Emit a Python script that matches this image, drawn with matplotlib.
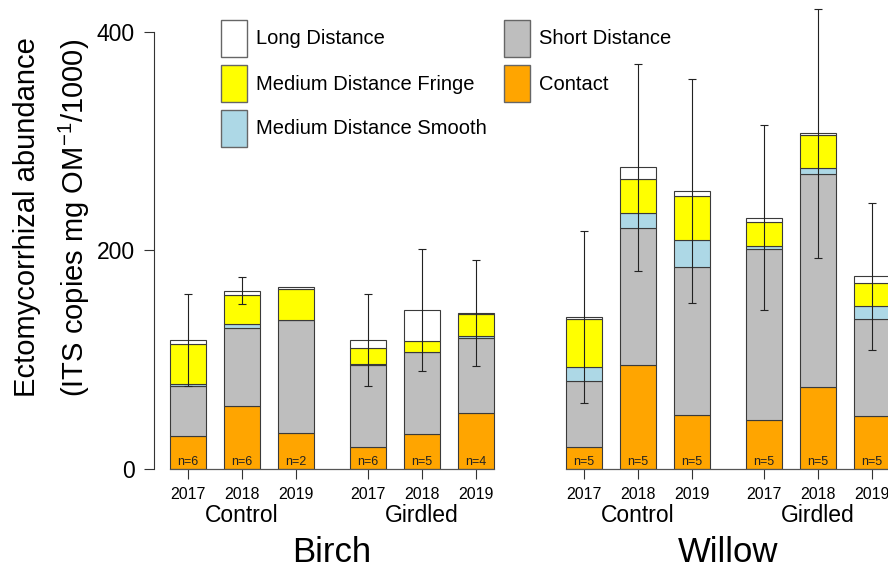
import numpy as np
import matplotlib
matplotlib.use("Agg")
import matplotlib.pyplot as plt
from matplotlib.patches import Rectangle
from matplotlib.transforms import blended_transform_factory

plt.rcParams.update({
    "font.family": "Liberation Sans",
    "mathtext.fontset": "custom",
    "mathtext.rm": "Liberation Sans",
    "mathtext.default": "regular",
})

# ── data (order: Birch C17 C18 C19 G17 G18 G19, Willow C17 C18 C19 G17 G18 G19)
species    = ["Birch", "Willow"]
treatments = ["Control", "Girdled"]
years      = ["2017", "2018", "2019"]

contact = [29.5, 57.6, 32.5, 19.4, 31.3, 50.6, 19.4, 94.6, 48.8, 44.7, 74.4, 47.8]
short   = [45.8, 70.9, 103.3, 75.5, 75.5, 68.7, 60.8, 126.1, 135.6, 156.5, 195.5, 89.2]
md_smooth = [1.9, 3.7, 0.5, 1.1, 0.3, 2.4, 13.1, 13.8, 25.0, 2.5, 5.3, 12.2]
md_fringe = [36.6, 26.8, 28.2, 14.2, 9.8, 19.6, 43.7, 30.5, 40.4, 22.5, 30.5, 21.1]
long_dist = [4.0, 4.0, 1.5, 7.6, 28.4, 1.2, 1.6, 11.0, 4.8, 3.7, 1.5, 5.9]
err_half  = [42.0, 12.2, np.nan, 42.4, 56.2, 48.7, 79.0, 94.7, 102.8, 85.0, 113.9, 67.6]
n_obs     = [6, 6, 2, 6, 5, 4, 5, 5, 5, 5, 5, 5]

layers = [
    ("Contact", contact, "#FFA500"),
    ("Short Distance", short, "#BEBEBE"),
    ("Medium Distance Smooth", md_smooth, "#ADD8E6"),
    ("Medium Distance Fringe", md_fringe, "#FFFF00"),
    ("Long Distance", long_dist, "#FFFFFF"),
]

# bar positions (units of bar spacing)
xpos = np.array([0, 1, 2, 3.333, 4.333, 5.333,
                 7.333, 8.333, 9.333, 10.667, 11.667, 12.667])
WIDTH = 0.667
EDGE = "#3a3a3a"

W, H = 888, 570
fig = plt.figure(figsize=(W / 100, H / 100), dpi=100)

def fx(px):
    return px / W

def fy(py):
    return 1 - py / H

ax = fig.add_axes([fx(154), fy(468.5), fx(888 - 154), 468.5 / H])
ax.set_xlim(-0.63, 12.963)
ax.set_ylim(0, 429.4)

bottom = np.zeros(len(xpos))
for name, vals, col in layers:
    vals = np.array(vals)
    ax.bar(xpos, vals, WIDTH, bottom=bottom, color=col, edgecolor=EDGE,
           linewidth=0.8, zorder=2)
    bottom += vals

ax.errorbar(xpos, bottom, yerr=err_half, fmt="none", ecolor="#222222",
            elinewidth=0.8, capsize=2.6, capthick=0.8, zorder=3)

for x, n in zip(xpos, n_obs):
    ax.text(x, 5.5, f"n={n}", ha="center", va="center", fontsize=9,
            color="#222222", zorder=4)

# axes styling
for s in ["top", "right", "bottom"]:
    ax.spines[s].set_visible(False)
ax.spines["left"].set_bounds(0, 400)
ax.spines["left"].set_color("#333333")
ax.set_yticks([0, 200, 400])
ax.tick_params(axis="y", length=7, width=0.8, color="#333333", pad=7,
               labelsize=16.5)
ax.set_xticks(xpos)
ax.set_xticklabels(years * 4)
ax.tick_params(axis="x", length=7, width=0.8, color="#333333", pad=6,
               labelsize=11.5)

# baseline under each species group
for start, end in [(0, 5), (6, 11)]:
    ax.plot([xpos[start] - WIDTH / 2, xpos[end] + WIDTH / 2], [0, 0],
            color="#555555", linewidth=0.9, clip_on=False, zorder=5)

# group labels
tr = blended_transform_factory(ax.transData, fig.transFigure)
for g in range(4):
    ax.text(xpos[g * 3 + 1], fy(516), treatments[g % 2], transform=tr,
            ha="center", va="center", fontsize=16.5)
for s in range(2):
    ax.text((xpos[s * 6] + xpos[s * 6 + 5]) / 2, fy(553), species[s],
            transform=tr, ha="center", va="center", fontsize=25)

# y label (two lines)
fig.text(fx(27), fy(397), "Ectomycorrhizal abundance", rotation=90,
         ha="center", va="bottom", fontsize=21)
fig.text(fx(74), fy(397), r"(ITS copies mg OM$^{-1}$/1000)", rotation=90,
         ha="center", va="bottom", fontsize=21)

# legend (two columns, drawn by hand)
leg_items = [
    ("Long Distance", "#FFFFFF", 221, 38),
    ("Medium Distance Fringe", "#FFFF00", 221, 83),
    ("Medium Distance Smooth", "#ADD8E6", 221, 128),
    ("Short Distance", "#BEBEBE", 504, 38),
    ("Contact", "#FFA500", 504, 83),
]
for label, col, bx, cy in leg_items:
    fig.add_artist(Rectangle((fx(bx), fy(cy + 18.5)), 26 / W, 37 / H,
                             transform=fig.transFigure, facecolor=col,
                             edgecolor="#666666", linewidth=1.0))
    fig.text(fx(bx + 35), fy(cy + 1), label, ha="left", va="center",
             fontsize=14.5)

fig.savefig("out.png", dpi=100)
